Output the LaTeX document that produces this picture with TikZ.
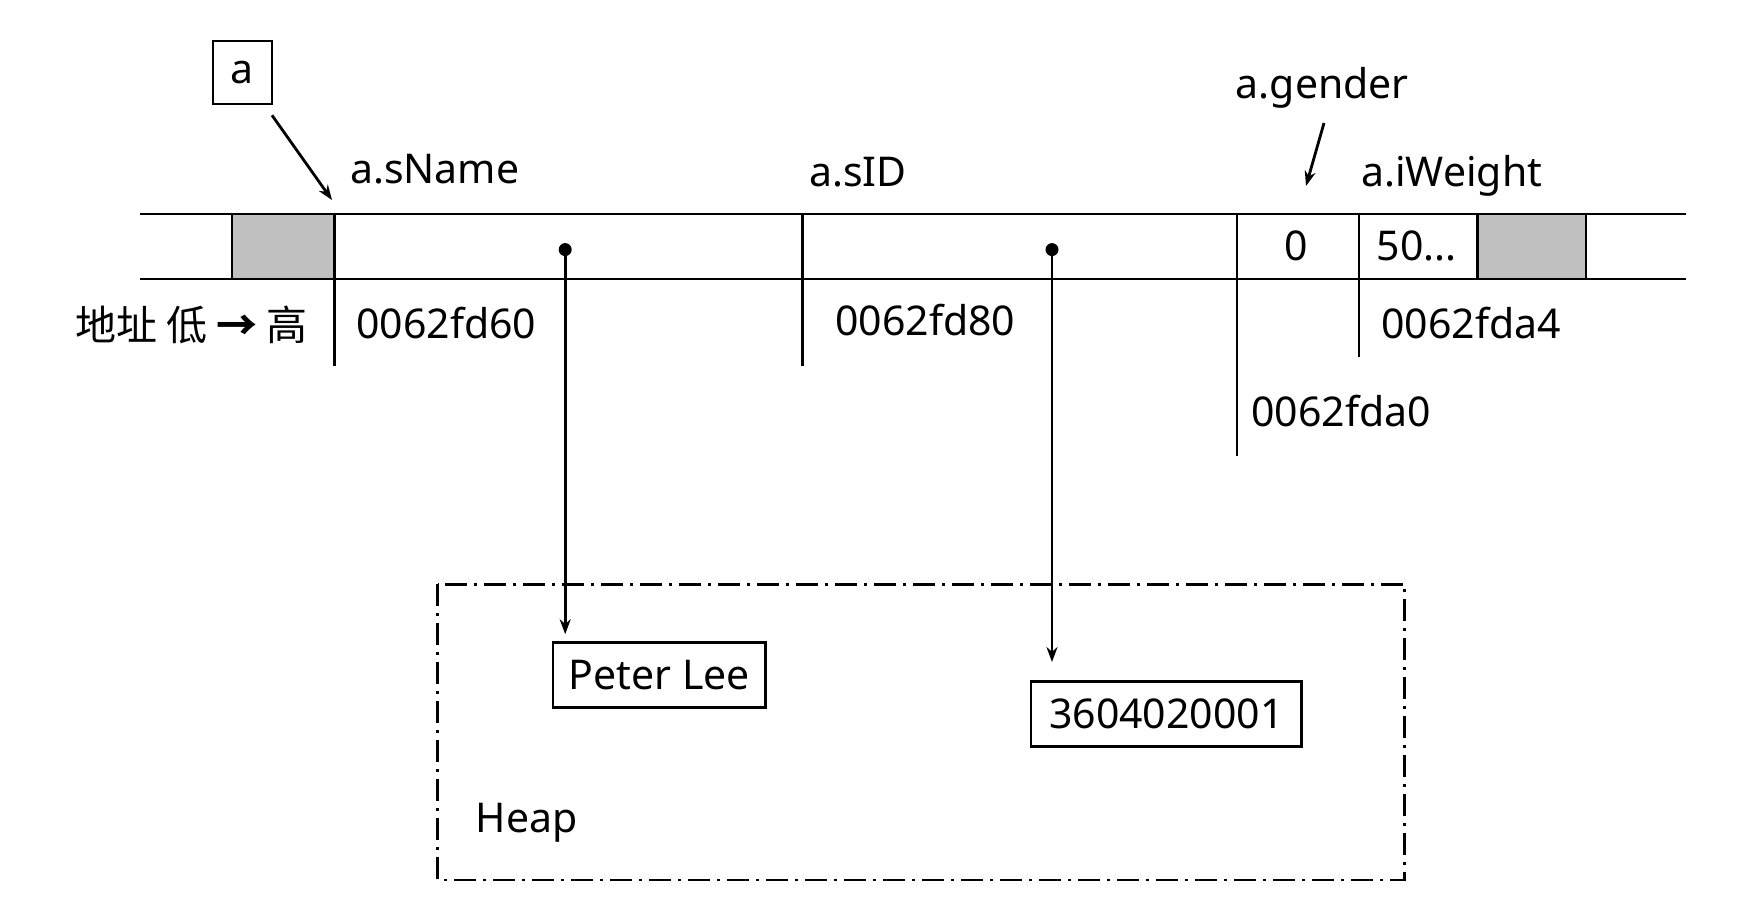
\documentclass[tikz,border=0pt]{standalone}
\usepackage{fontspec}
\setmainfont{Noto Sans}
\newfontfamily\cjk{Noto Sans CJK SC}
\usetikzlibrary{arrows.meta}
\definecolor{cellgray}{HTML}{C0C0C0}
\begin{document}
\begin{tikzpicture}[x=1pt,y=-1pt,
  font=\fontsize{41}{49}\selectfont,
  lbl/.style={inner sep=0pt, anchor=base west},
  val/.style={inner sep=0pt, anchor=west},
  rowline/.style={line width=2.2pt},
  tick/.style={line width=2.6pt},
  box/.style={draw, line width=2.6pt, inner sep=0pt},
  arr/.style={line width=2.8pt, -{Stealth[length=15pt,width=11pt]}},
  dotmark/.style={circle, fill=black, inner sep=0pt, minimum size=13pt},
  heapframe/.style={line width=2.6pt, dash pattern=on 22pt off 7pt on 3pt off 7pt}]
\useasboundingbox (0,0) rectangle (1755,904);

% memory row
\fill[cellgray] (231.7,213.8) rectangle (334.7,278.7);
\fill[cellgray] (1477.5,213.8) rectangle (1586,278.7);
\draw[rowline] (231.7,213.8) -- (231.7,278.7);
\draw[rowline] (1477.5,213.8) -- (1477.5,278.7);
\draw[rowline] (1586,213.8) -- (1586,278.7);
\draw[rowline] (140,213.8) -- (1685.7,213.8);
\draw[rowline] (140,278.7) -- (1685.7,278.7);

% boundary ticks
\draw[tick] (334.7,213.8) -- (334.7,366);
\draw[tick] (802.5,213.8) -- (802.5,366);
\draw[tick] (1236.8,213.8) -- (1236.8,455.5);
\draw[tick] (1358.8,213.8) -- (1358.8,357);

% labels
\node[box, minimum width=59pt, minimum height=63pt] (a) at (242.3,72.7) {a};
\node[lbl] (sname) at (350,183.5) {a.sName};
\node[lbl] (sid) at (809,187) {a.sID};
\node[lbl] (gender) at (1235.7,98.5) {a.gender};
\node[lbl] (iweight) at (1361,187) {a.iWeight};

\node[inner sep=0pt] (v0) at (1296,246) {0};
\node[val] (v50) at (1376.7,246) {50...};

\node[val] (lohi) at (75,324.6) {\cjk 地址 低 {\bfseries →} 高};
\node[val] (ad60) at (356,323.5) {0062fd60};
\node[val] (ad80) at (835,320) {0062fd80};
\node[val] (ada4) at (1381,323.5) {0062fda4};
\node[val] (ada0) at (1251,410.8) {0062fda0};

% heap
\draw[heapframe] (437.6,584.3) rectangle (1404.7,879.8);
\node[box, minimum width=212.6pt, minimum height=65pt] (name) at (659.3,675) {Peter Lee};
\node[box, minimum width=270.7pt, minimum height=65pt] (id) at (1166.4,714) {3604020001};
\node[val] (heap) at (475.7,822.5) {Heap};

% pointers
\node[dotmark] (d1) at (565.2,249.6) {};
\node[dotmark] (d2) at (1052,249.6) {};
\draw[arr, shorten >=7pt] (d1.center) -- (d1.center |- name.north);
\coordinate (d2end) at (1052,662);
\draw[arr] (d2.center) -- (d2end);

\coordinate (astart) at (272,115.3);
\coordinate (aend) at (332,200);
\draw[arr] (astart) -- (aend);
\coordinate (gstart) at (1324,123);
\coordinate (gend) at (1306,186);
\draw[arr] (gstart) -- (gend);
\end{tikzpicture}
\end{document}
